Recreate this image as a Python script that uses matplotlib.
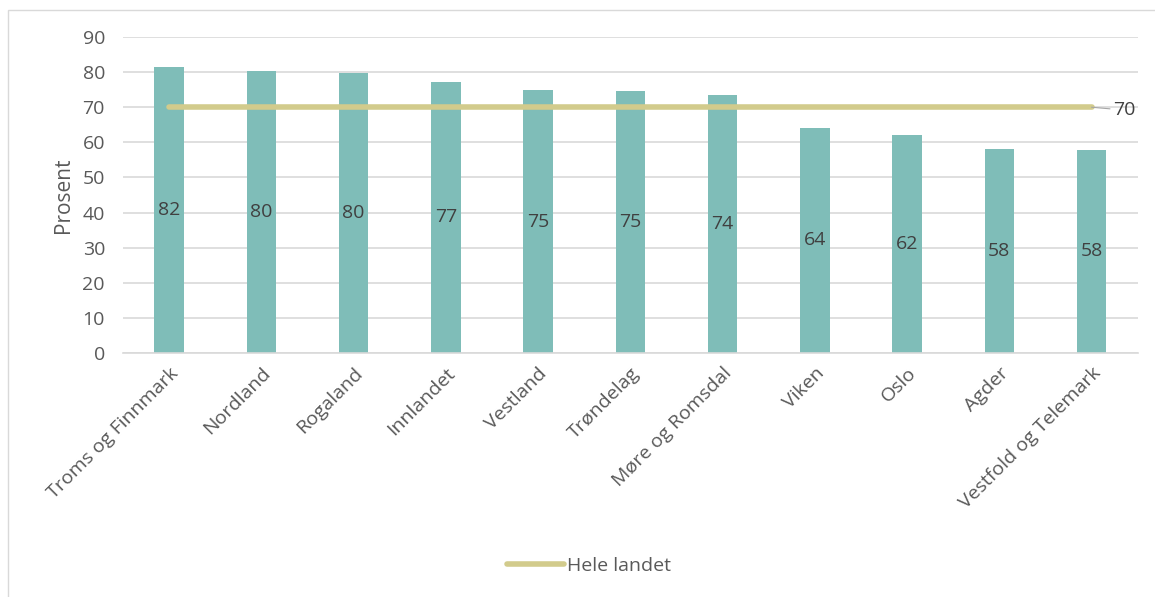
import matplotlib.pyplot as plt
from matplotlib.patches import Rectangle

# data
regions = ["Troms og Finnmark", "Nordland", "Rogaland", "Innlandet", "Vestland",
           "Trøndelag", "Møre og Romsdal", "Viken", "Oslo", "Agder",
           "Vestfold og Telemark"]
values = [81.6, 80.3, 79.7, 77.2, 74.8, 74.6, 73.5, 64.2, 62.2, 58.0, 57.9]
national = 70

bar_color = "#7fbdb8"
line_color = "#d2cb8c"
text_color = "#595959"
grid_color = "#d9d9d9"

plt.rcParams["font.family"] = ["Open Sans", "DejaVu Sans"]

fig = plt.figure(figsize=(11.55, 5.97), dpi=100)
ax = fig.add_axes([0.1065, 0.4087, 0.8785, 0.5293])

x = list(range(len(regions)))
bars = ax.bar(x, values, width=0.32, color=bar_color, zorder=2)

for xi, v in zip(x, values):
    ax.text(xi, v / 2, f"{v:.0f}", ha="center", va="center",
            fontsize=14, color="#404040", zorder=4)

ax.plot([x[0], x[-1]], [national, national], color=line_color, lw=4,
        solid_capstyle="round", zorder=3, label="Hele landet")
ax.annotate(f"{national}", xy=(x[-1], national), xytext=(x[-1] + 0.23, national - 0.8),
            ha="left", va="center", fontsize=14, color="#404040",
            arrowprops=dict(arrowstyle="-", color="#a6a6a6", lw=0.8,
                            shrinkA=0, shrinkB=0))

ax.set_xlim(-0.5, len(regions) - 0.5)
ax.set_ylim(0, 90)
ax.set_yticks(range(0, 91, 10))
ax.yaxis.grid(True, color=grid_color, lw=1.2, zorder=0)
ax.set_axisbelow(True)
for s in ["top", "right", "left"]:
    ax.spines[s].set_visible(False)
ax.spines["bottom"].set_color(grid_color)
ax.spines["bottom"].set_linewidth(1.2)
ax.tick_params(axis="both", length=0, labelsize=14, colors=text_color)
ax.tick_params(axis="y", pad=13)
ax.tick_params(axis="x", pad=8)
ax.set_xticks(x)
ax.set_xticklabels(regions, rotation=45, ha="right", rotation_mode="anchor")
ax.set_ylabel("Prosent", fontsize=15, color=text_color, labelpad=6)

fig.legend(loc="center", bbox_to_anchor=(0.51, 0.052), frameon=False,
           fontsize=14, labelcolor=text_color, handlelength=2.9,
           handletextpad=0.15)

fig.patches.append(Rectangle((0.007, -0.01), 1.2, 0.994, transform=fig.transFigure,
                             fill=False, edgecolor="#d9d9d9", lw=1))

fig.savefig("out.png", dpi=100)
